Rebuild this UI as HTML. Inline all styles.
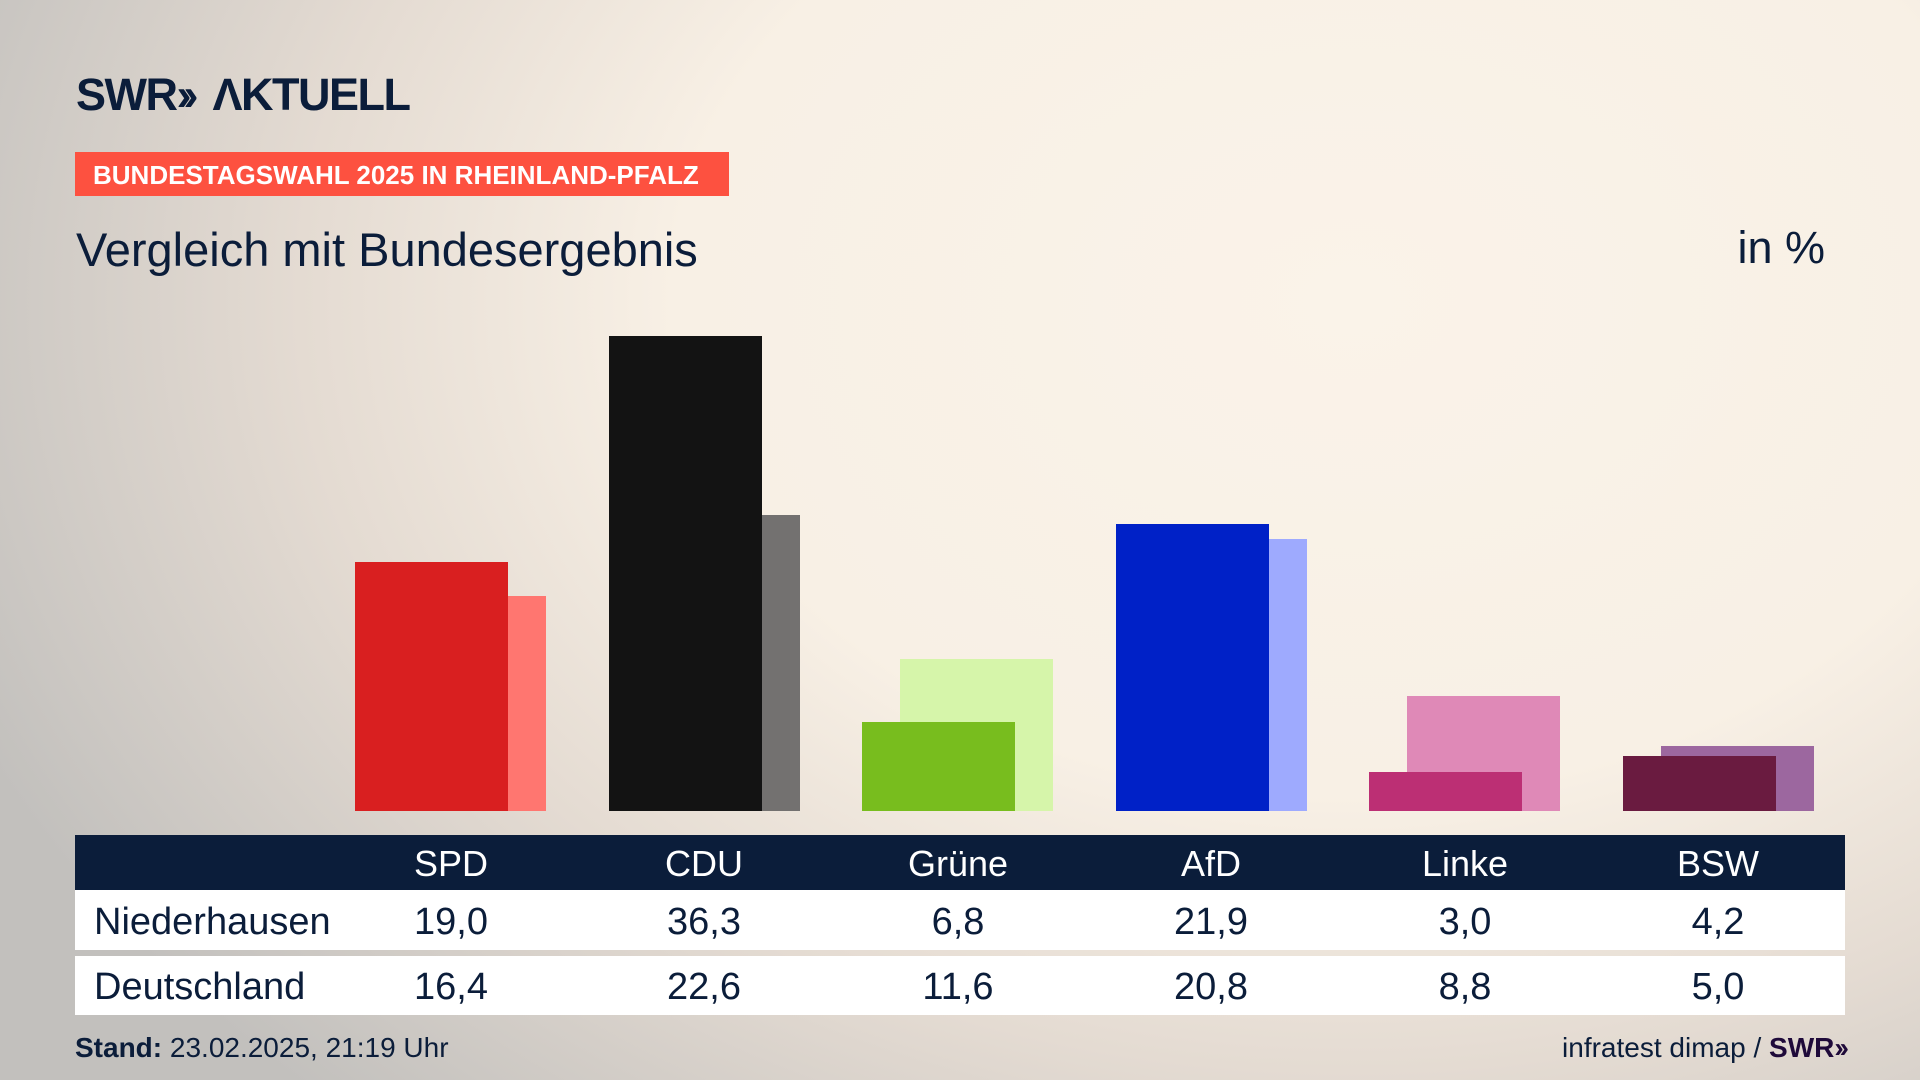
<!DOCTYPE html>
<html><head><meta charset="utf-8"><style>
*{margin:0;padding:0;box-sizing:border-box}
body{width:1920px;height:1080px;overflow:hidden;font-family:"Liberation Sans Narrow","Liberation Sans",sans-serif;color:#0b1d3a;
background:radial-gradient(ellipse 1500px 1100px at 1350px 300px,#faf3e9 0%,#f8f0e5 45%,#e4dbd2 70%,#c2c0bd 100%);position:relative}
.a{position:absolute}
.bar{position:absolute;bottom:269px;width:153px}
.hd{color:#fff;font-size:36px;text-align:center;width:200px;top:843px}
.v{font-size:38px;text-align:center;width:200px}
</style></head><body>
<div class="a" style="left:76px;top:69px;font-size:45px;font-weight:bold;letter-spacing:-1.5px;color:#0b1d3a">SWR<span style="letter-spacing:-8px">››</span>&nbsp; ΛKTUELL</div>
<div class="a" style="left:75px;top:152px;width:654px;height:44px;background:#fd5140;color:#fff;font-weight:bold;font-size:26px;line-height:46px;padding-left:18px">BUNDESTAGSWAHL 2025 IN RHEINLAND-PFALZ</div>
<div class="a" style="left:76px;top:222px;font-size:47px">Vergleich mit Bundesergebnis</div>
<div class="a" style="right:95px;top:222px;font-size:45px">in %</div>

<div class="bar" style="left:393px;height:215px;background:#ff7670"></div>
<div class="bar" style="left:355px;height:249px;background:#d91f20"></div>
<div class="bar" style="left:647px;height:296px;background:#737170"></div>
<div class="bar" style="left:609px;height:475px;background:#131313"></div>
<div class="bar" style="left:900px;height:152px;background:#d6f5aa"></div>
<div class="bar" style="left:862px;height:89px;background:#78bd1e"></div>
<div class="bar" style="left:1154px;height:272px;background:#9eaafe"></div>
<div class="bar" style="left:1116px;height:287px;background:#0021c7"></div>
<div class="bar" style="left:1407px;height:115px;background:#df89b7"></div>
<div class="bar" style="left:1369px;height:39px;background:#bc2f74"></div>
<div class="bar" style="left:1661px;height:65px;background:#9c679f"></div>
<div class="bar" style="left:1623px;height:55px;background:#6a1b40"></div>

<div class="a" style="left:75px;top:835px;width:1770px;height:55px;background:#0b1d3a"></div>
<div class="a" style="left:75px;top:890px;width:1770px;height:60px;background:#fff"></div>
<div class="a" style="left:75px;top:956px;width:1770px;height:59px;background:#fff"></div>

<div class="a hd" style="left:351px">SPD</div>
<div class="a hd" style="left:604px">CDU</div>
<div class="a hd" style="left:858px">Grüne</div>
<div class="a hd" style="left:1111px">AfD</div>
<div class="a hd" style="left:1365px">Linke</div>
<div class="a hd" style="left:1618px">BSW</div>

<div class="a" style="left:94px;top:901px;font-size:38px">Niederhausen</div>
<div class="a v" style="left:351px;top:901px">19,0</div>
<div class="a v" style="left:604px;top:901px">36,3</div>
<div class="a v" style="left:858px;top:901px">6,8</div>
<div class="a v" style="left:1111px;top:901px">21,9</div>
<div class="a v" style="left:1365px;top:901px">3,0</div>
<div class="a v" style="left:1618px;top:901px">4,2</div>

<div class="a" style="left:94px;top:966px;font-size:38px">Deutschland</div>
<div class="a v" style="left:351px;top:966px">16,4</div>
<div class="a v" style="left:604px;top:966px">22,6</div>
<div class="a v" style="left:858px;top:966px">11,6</div>
<div class="a v" style="left:1111px;top:966px">20,8</div>
<div class="a v" style="left:1365px;top:966px">8,8</div>
<div class="a v" style="left:1618px;top:966px">5,0</div>

<div class="a" style="left:75px;top:1032px;font-size:28px"><b>Stand:</b> 23.02.2025, 21:19 Uhr</div>
<div class="a" style="right:75px;top:1032px;font-size:28px">infratest dimap / <b style="color:#1f0a3a">SWR<span style="letter-spacing:-4px">››</span></b></div>
</body></html>
